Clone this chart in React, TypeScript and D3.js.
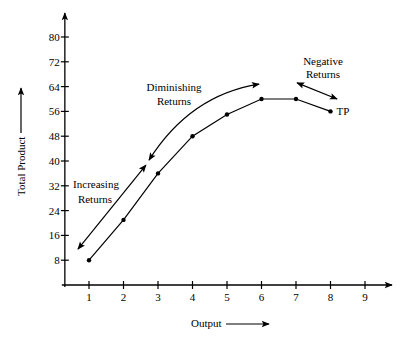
import React from "react";
import * as d3 from "d3";

const outputs = [1, 2, 3, 4, 5, 6, 7, 8];
const totalProduct = [8, 21, 36, 48, 55, 60, 60, 56];
const xTicks = [1, 2, 3, 4, 5, 6, 7, 8, 9];
const yTicks = [8, 16, 24, 32, 40, 48, 56, 64, 72, 80];

const W = 400;
const H = 339;
const FONT = "'Liberation Serif', 'Times New Roman', serif";

export default function App() {
  const x = d3.scaleLinear().domain([0, 9]).range([54.5, 365]);
  const y = d3.scaleLinear().domain([0, 80]).range([285, 37]);
  const data = outputs.map((o, i) => ({ o, v: totalProduct[i] }));
  const line = d3
    .line<{ o: number; v: number }>()
    .x((d) => x(d.o))
    .y((d) => y(d.v));

  // annotation arrows in data coordinates
  const incA = [x(0.68), y(11.6)];
  const incB = [x(2.65), y(38.7)];
  const dimA = [x(2.74), y(40.3)];
  const dimC = [x(3.93), y(61.3)];
  const dimB = [x(5.93), y(64.8)];
  const negA = [x(7.03), y(65.2)];
  const negB = [x(8.19), y(60)];

  const axisX = x(0.3);
  const axisY = y(0);

  return (
    <svg
      width={W}
      height={H}
      style={{ position: "absolute", left: 0, top: 0, background: "#fff" }}
      fontFamily={FONT}
    >
      <defs>
        <marker
          id="ah"
          viewBox="0 0 10 10"
          refX="9"
          refY="5"
          markerWidth="9"
          markerHeight="8"
          markerUnits="userSpaceOnUse"
          orient="auto-start-reverse"
        >
          <path d="M0,1 L10,5 L0,9 L2,5 Z" fill="#000" />
        </marker>
      </defs>

      {/* axes */}
      <line x1={axisX - 3} y1={axisY} x2={392} y2={axisY} stroke="#000" strokeWidth={1.3} markerEnd="url(#ah)" />
      <line x1={axisX} y1={axisY + 2} x2={axisX} y2={13} stroke="#000" strokeWidth={1.3} markerEnd="url(#ah)" />

      {xTicks.map((t) => (
        <g key={"xt" + t}>
          <line x1={x(t)} x2={x(t)} y1={axisY - 4} y2={axisY + 4} stroke="#000" strokeWidth={1.2} />
          <text x={x(t)} y={301} fontSize={11} textAnchor="middle">
            {t}
          </text>
        </g>
      ))}
      {yTicks.map((t) => (
        <g key={"yt" + t}>
          <line x1={axisX - 4} x2={axisX + 4} y1={y(t)} y2={y(t)} stroke="#000" strokeWidth={1.2} />
          <text x={axisX - 5} y={y(t) + 4} fontSize={11} textAnchor="end">
            {t}
          </text>
        </g>
      ))}

      {/* TP line */}
      <path d={line(data) || ""} fill="none" stroke="#000" strokeWidth={1.2} />
      {data.map((d) => (
        <circle key={"p" + d.o} cx={x(d.o)} cy={y(d.v)} r={2.2} fill="#000" />
      ))}
      <text x={x(8) + 6} y={y(56) + 4} fontSize={11}>
        TP
      </text>

      {/* annotation arrows */}
      <line x1={incA[0]} y1={incA[1]} x2={incB[0]} y2={incB[1]} stroke="#000" strokeWidth={1.2} markerStart="url(#ah)" markerEnd="url(#ah)" />
      <path
        d={`M${dimA[0]},${dimA[1]} Q${dimC[0]},${dimC[1]} ${dimB[0]},${dimB[1]}`}
        fill="none"
        stroke="#000"
        strokeWidth={1.2}
        markerStart="url(#ah)"
        markerEnd="url(#ah)"
      />
      <line x1={negA[0]} y1={negA[1]} x2={negB[0]} y2={negB[1]} stroke="#000" strokeWidth={1.2} markerStart="url(#ah)" markerEnd="url(#ah)" />

      {/* annotation texts */}
      <text fontSize={11} textAnchor="middle">
        <tspan x={174} y={91}>Diminishing</tspan>
        <tspan x={174} y={105}>Returns</tspan>
      </text>
      <text fontSize={11} textAnchor="middle">
        <tspan x={96} y={188}>Increasing</tspan>
        <tspan x={95} y={203}>Returns</tspan>
      </text>
      <text fontSize={11} textAnchor="middle">
        <tspan x={323} y={65}>Negative</tspan>
        <tspan x={323} y={78}>Returns</tspan>
      </text>

      {/* axis titles */}
      <text x={191} y={327} fontSize={11}>
        Output
      </text>
      <line x1={226} y1={324} x2={269} y2={324} stroke="#000" strokeWidth={1.2} markerEnd="url(#ah)" />
      <text transform="translate(25,196) rotate(-90)" fontSize={11}>
        Total Product
      </text>
      <line x1={21} y1={133} x2={21} y2={88} stroke="#000" strokeWidth={1.2} markerEnd="url(#ah)" />
    </svg>
  );
}
